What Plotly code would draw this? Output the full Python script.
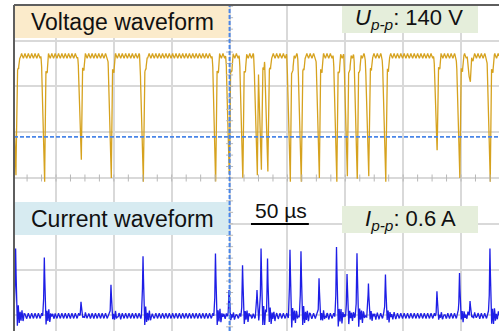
import numpy as np
import plotly.graph_objects as go

# ---------------------------------------------------------------- data
# Discharge events along the time axis (µs)
event_time = [15.1, 39.9, 71.6, 97.5, 125.2, 187.8, 199.5, 211.2, 223.7, 227.2,
              232.8, 252.2, 261.7, 277.3, 292.4, 301.5, 310.1, 320.0, 334.7,
              379.2, 398.7, 407.8, 425.0]
# Lowest gap voltage reached in each event (V)
voltage_min = [3, -4, 20, 0, -4, -3, 5, 1, 3, 9, 7, -4, -4, 0, -4, 2, 0, 2, -4,
               31, 0, 105, -4]
# Current peak of each event (A)
current_peak = [0.52, 0.45, 0.11, 0.24, 0.46, 0.48, 0.20, 0.39, 0.20, 0.52,
                0.42, 0.51, 0.50, 0.29, 0.53, 0.33, 0.49, 0.25, 0.32, 0.19,
                0.33, 0.12, 0.52]

# Open-gap voltage level (V) and supply ripple (V / A)
v_open = 133.0
ripple_period = 2.9                       # µs
ripple_phase = [0.0, 0.25, 0.5, 0.75, 1.0]
v_ripple_shape = [3.0, 0.0, -2.5, 0.0, 3.0]
i_ripple_shape = [0.022, 0.0, -0.02, 0.0, 0.022]

# Pulse shapes: time from event (µs) -> fraction of the full swing
dip_t = [-3.0, -2.4, -0.3, 0.3, 1.0, 1.4, 2.6, 3.0, 3.6]
dip_f = [0.0, 0.06, 1.0, 1.0, 0.18, 0.12, 0.12, 0.02, 0.0]
spike_t = [-1.5, -0.7, 0.0, 0.7, 1.5, 2.3, 3.1, 3.9, 4.7, 5.5, 6.4, 7.3, 8.4, 9.6]
spike_f = [0.0, 0.2, 1.0, 0.35, -0.14, 0.12, -0.1, 0.09, -0.08, 0.06, -0.05,
           0.04, -0.03, 0.0]

# Labels
voltage_label = "Voltage waveform"
current_label = "Current waveform"
upp_label = "<i>U</i><sub><i>p-p</i></sub>: 140 V"
ipp_label = "<i>I</i><sub><i>p-p</i></sub>: 0.6 A"
scale_label = "50 µs"
scale_len = 50.0                          # µs

# ---------------------------------------------------------------- waveforms
t = np.arange(13.7, 432.9, 0.1)
phase = (t / ripple_period) % 1.0
v_rip = np.interp(phase, ripple_phase, v_ripple_shape)
i_rip = np.interp(phase, ripple_phase, i_ripple_shape)

frac = np.zeros_like(t)
drop = np.zeros_like(t)
cur = np.zeros_like(t)
cur_env = np.zeros_like(t)
for te, vm, ip in zip(event_time, voltage_min, current_peak):
    f = np.interp(t - te, dip_t, dip_f, left=0.0, right=0.0)
    d = f * (v_open - vm)
    take = d > drop
    drop[take] = d[take]
    frac = np.maximum(frac, f)
    g = np.interp(t - te, spike_t, spike_f, left=0.0, right=0.0)
    cur += ip * g
    cur_env = np.maximum(cur_env, np.abs(g))

voltage = v_open - drop + v_rip * (1 - frac)
current = cur + i_rip * (1 - cur_env)

# ---------------------------------------------------------------- styling
W, H = 499, 331
ML, MT = 14, 5
PW, PH = W - ML, H - MT
X_RANGE = [13.70, 432.83]
V_RANGE = [-167.03, 188.86]
I_RANGE = [-0.1154, 2.3923]
GRID = "#D9D9D9"
FRAME = "#5E5E5E"
V_COLOR = "#D6A21E"
I_COLOR = "#1E1EE6"
CURSOR = "#4A86E8"
FONT = "Liberation Sans, Arial, sans-serif"


def px(x):
    return (x - ML) / PW


def py(y):
    return 1 - (y - MT) / PH


fig = go.Figure()

fig.add_trace(go.Scatter(x=t, y=voltage, mode="lines", yaxis="y",
                         line=dict(color=V_COLOR, width=1.3),
                         hoverinfo="skip"))
fig.add_trace(go.Scatter(x=t, y=current, mode="lines", yaxis="y2",
                         line=dict(color=I_COLOR, width=1.3),
                         hoverinfo="skip"))

# quarter-division marks on the centre lines
minor_x = np.arange(12.5, 432.0, 12.5)
minor_y = np.arange(-162.5, 188.0, 12.5)
fig.add_trace(go.Scatter(x=minor_x, y=np.zeros_like(minor_x), mode="markers",
                         marker=dict(symbol="line-ns", size=5,
                                     line=dict(color="#B8B8B8", width=1)),
                         hoverinfo="skip"))
fig.add_trace(go.Scatter(x=np.full_like(minor_y, 200.0), y=minor_y,
                         mode="markers",
                         marker=dict(symbol="line-ew", size=5,
                                     line=dict(color="#B8B8B8", width=1)),
                         hoverinfo="skip"))

shapes = []
# label boxes
for (x0, y0, x1, y1, col) in [(14, 5, 229, 38, "#FBEBCB"),
                              (342, 5, 478, 33, "#E5EEDB"),
                              (14, 202, 229, 235, "#D7EBF1"),
                              (342, 206, 478, 233, "#E5EEDB")]:
    shapes.append(dict(type="rect", xref="paper", yref="paper",
                       x0=px(x0), x1=px(x1), y0=py(y1), y1=py(y0),
                       fillcolor=col, line=dict(width=0), layer="above"))
# cursors
shapes.append(dict(type="line", xref="x", yref="paper", x0=200, x1=200,
                   y0=0, y1=1, line=dict(color=CURSOR, width=2,
                                         dash="4px,2px"), layer="above"))
shapes.append(dict(type="line", xref="paper", yref="y", x0=0, x1=1,
                   y0=45, y1=45, line=dict(color=CURSOR, width=1.8,
                                           dash="4px,2px"), layer="above"))
# time scale bar
bar_x0 = 218.5
shapes.append(dict(type="line", xref="x", yref="paper", x0=bar_x0,
                   x1=bar_x0 + scale_len, y0=py(224), y1=py(224),
                   line=dict(color="black", width=2), layer="above"))
# screen frame (top and left)
shapes.append(dict(type="line", xref="paper", yref="paper", x0=0, x1=1,
                   y0=1, y1=1, line=dict(color=FRAME, width=2), layer="above"))
shapes.append(dict(type="line", xref="paper", yref="paper", x0=0, x1=0,
                   y0=0, y1=1, line=dict(color=FRAME, width=2), layer="above"))

annotations = [
    dict(text=voltage_label, x=px(122), y=py(21.5), font=dict(size=23)),
    dict(text=current_label, x=px(122), y=py(218.5), font=dict(size=23)),
    dict(text=upp_label, x=px(409), y=py(19), font=dict(size=22)),
    dict(text=ipp_label, x=px(410), y=py(220), font=dict(size=22)),
    dict(text=scale_label, x=px(281), y=py(210), font=dict(size=21)),
]
for a in annotations:
    a.update(xref="paper", yref="paper", showarrow=False,
             xanchor="center", yanchor="middle")
    a["font"].update(family=FONT, color="#111111")

axis_common = dict(showticklabels=False, ticks="", zeroline=False,
                   showline=False, fixedrange=True)
fig.update_layout(
    width=W, height=H,
    margin=dict(l=ML, r=0, t=MT, b=0),
    paper_bgcolor="white", plot_bgcolor="white",
    showlegend=False,
    xaxis=dict(range=X_RANGE, tickvals=list(range(50, 401, 50)),
               showgrid=True, gridcolor=GRID, gridwidth=1.5, **axis_common),
    yaxis=dict(range=V_RANGE, tickvals=list(range(-150, 151, 50)),
               showgrid=True, gridcolor=GRID, gridwidth=1.5, **axis_common),
    yaxis2=dict(range=I_RANGE, overlaying="y", visible=False,
                showgrid=False, fixedrange=True),
    shapes=shapes,
    annotations=annotations,
)

fig.write_html("out.html")
